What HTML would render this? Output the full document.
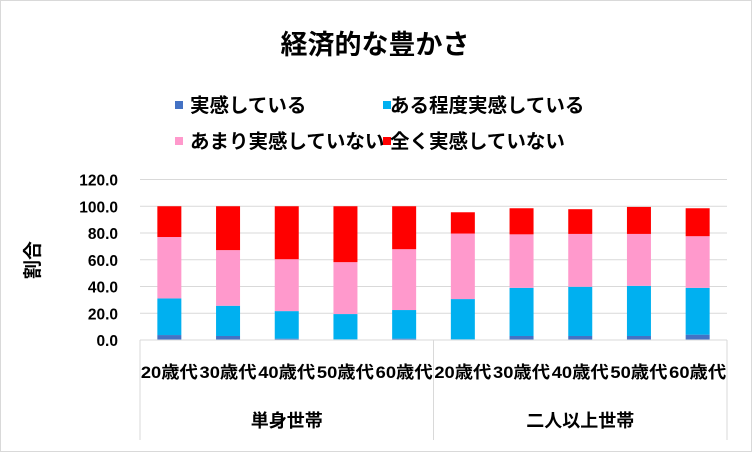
<!DOCTYPE html>
<html><head><meta charset="utf-8"><style>
html,body{margin:0;padding:0;background:#fff;}
svg{display:block;font-family:"Liberation Sans","Noto Sans CJK JP",sans-serif;font-weight:bold;}
</style></head><body>
<svg id="chart" width="752" height="452" viewBox="0 0 752 452">
<rect x="0.5" y="0.5" width="751" height="451" fill="#fff" stroke="#d9d9d9"/>
<text x="375" y="54" text-anchor="middle" font-size="27" fill="#000">経済的な豊かさ</text>
<g>
<g><rect x="175" y="101" width="8" height="8" fill="#4472C4"/><text x="190" y="112" font-size="19.5">実感している</text></g>
<g><rect x="383" y="101" width="8" height="8" fill="#00B0F0"/><text x="390" y="112" font-size="19.5">ある程度実感している</text></g>
<g><rect x="175" y="137" width="8" height="8" fill="#FF99CC"/><text x="190" y="148" font-size="19.5">あまり実感していない</text></g>
<g><rect x="383" y="137" width="8" height="8" fill="#FF0000"/><text x="390" y="148" font-size="19.5">全く実感していない</text></g>
</g>
<text transform="translate(39,260) rotate(-90)" text-anchor="middle" font-size="19">割合</text>
<g id="grid"></g><g id="bars"></g><g id="xaxis"></g>
</svg>
<script>
const categories = ["20歳代","30歳代","40歳代","50歳代","60歳代","20歳代","30歳代","40歳代","50歳代","60歳代"];
const groups = ["単身世帯","二人以上世帯"];
const jikkan = [3.7,3.0,1.0,0.5,1.0,0.5,3.0,3.0,3.0,4.0];
const aruTeido = [27.4,22.6,20.6,18.9,21.4,30.1,36.0,36.8,37.5,35.0];
const amari = [45.9,41.6,38.8,38.8,45.5,49.0,40.0,39.5,38.8,38.6];
const mattaku = [23.0,32.8,39.6,41.8,32.1,15.9,19.5,18.5,20.2,20.9];
const yTicks = [0,20,40,60,80,100,120];
const yTickLabels = ["0.0","20.0","40.0","60.0","80.0","100.0","120.0"];
const series = [jikkan, aruTeido, amari, mattaku];
const colors = ["#4472C4","#00B0F0","#FF99CC","#FF0000"];
const names = ["jikkan","aru-teido","amari","mattaku"];
const NS="http://www.w3.org/2000/svg";
const x0=140,x1=727,y0=340,y1=179.5,ymax=120;
const y=v=>y0-(v/ymax)*(y0-y1);
const step=(x1-x0)/categories.length;
const xc=i=>x0+step*(i+0.5);
function mk(tag,attrs,parent){const e=document.createElementNS(NS,tag);for(const k in attrs)e.setAttribute(k,attrs[k]);parent.appendChild(e);return e;}
const grid=document.getElementById('grid');
yTicks.forEach((t,i)=>{
 if(t>0){const l=mk('line',{x1:x0,x2:x1,y1:y(t),y2:y(t),stroke:'#d9d9d9','stroke-width':1},grid);
 
 }
 const tx=mk('text',{x:118,y:y(t)+6,'text-anchor':'end','font-size':15.5},grid);
 tx.textContent=yTickLabels[i];
 
 
});
const bars=document.getElementById('bars');
categories.forEach((c,i)=>{
 let acc=0;
 series.forEach((s,k)=>{
  const r=mk('rect',{x:xc(i)-12,width:24,y:y(acc+s[i]),height:y(acc)-y(acc+s[i]),fill:colors[k]},bars);
  
  
  acc+=s[i];
 });
});
const xa=document.getElementById('xaxis');
const al=mk('line',{x1:x0,x2:x1,y1:y0,y2:y0,stroke:'#d9d9d9'},xa);


[0,5,10].forEach(j=>{const l=mk('line',{x1:x0+step*j,x2:x0+step*j,y1:y0,y2:440,stroke:'#d9d9d9'},xa);
 
 });
categories.forEach((c,i)=>{
 const t=mk('text',{x:xc(i),y:378,'text-anchor':'middle','font-size':17,textLength:57,lengthAdjust:'spacingAndGlyphs'},xa);
 t.textContent=c;
 
 
});
groups.forEach((g,j)=>{
 const t=mk('text',{x:x0+step*(j*5+2.5),y:427,'text-anchor':'middle','font-size':18},xa);
 t.textContent=g;
 
 
});
</script>
</body></html>
